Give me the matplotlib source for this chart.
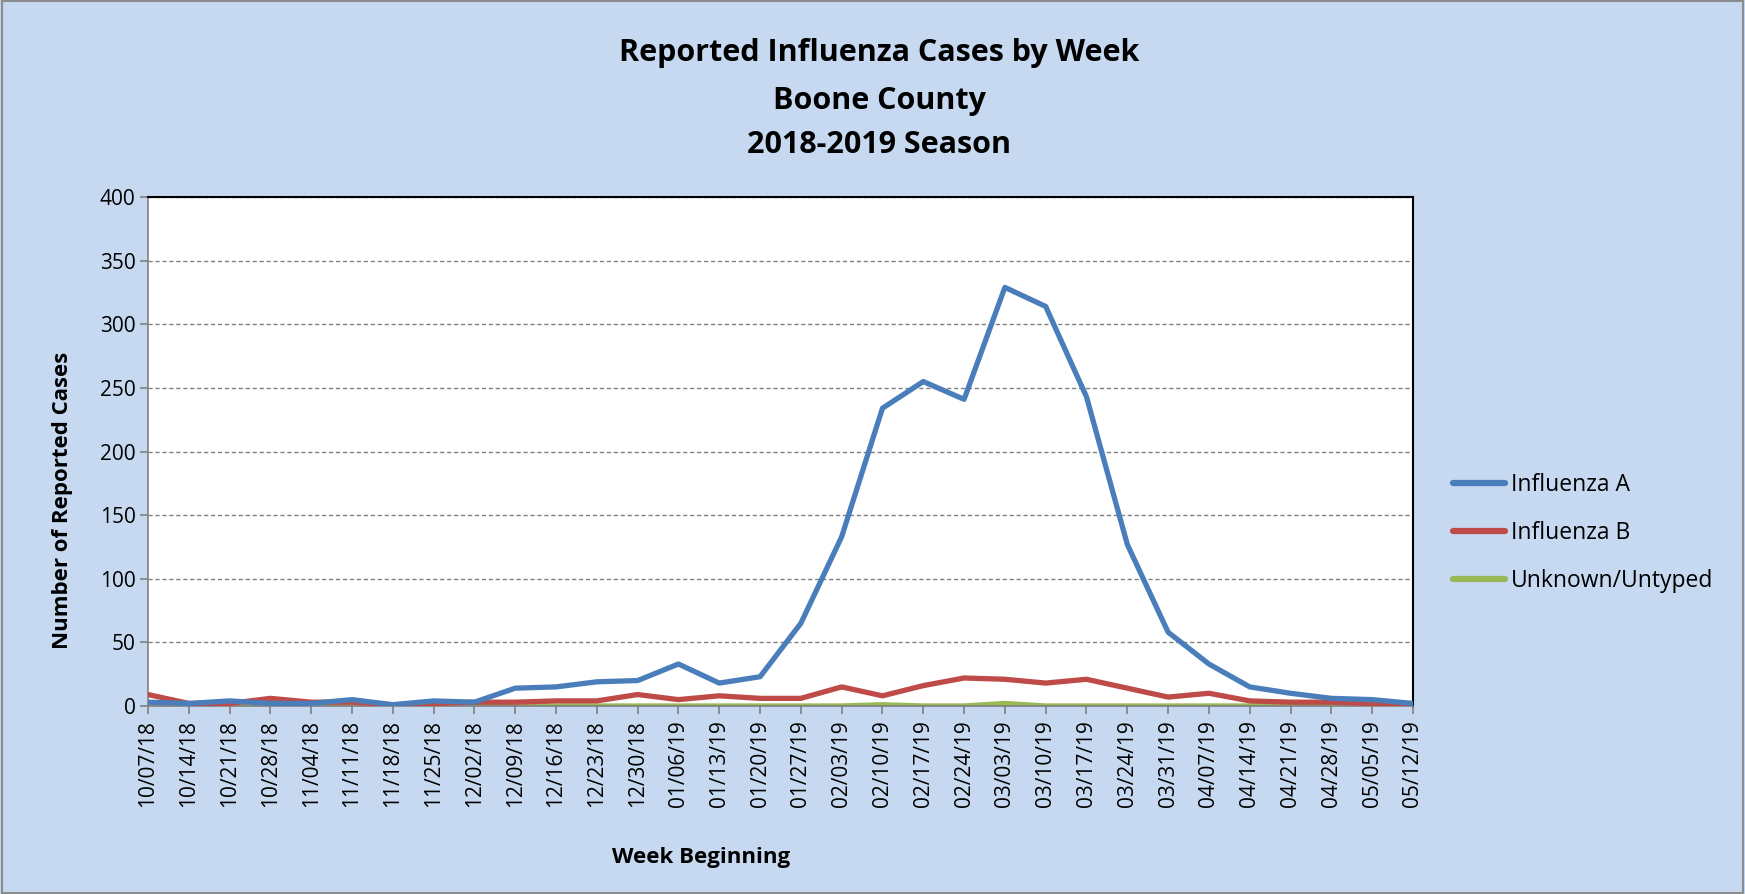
import matplotlib

matplotlib.use("Agg")
import matplotlib.pyplot as plt
from matplotlib.patches import Rectangle


WEEKS = [
    "10/07/18", "10/14/18", "10/21/18", "10/28/18", "11/04/18", "11/11/18",
    "11/18/18", "11/25/18", "12/02/18", "12/09/18", "12/16/18", "12/23/18",
    "12/30/18", "01/06/19", "01/13/19", "01/20/19", "01/27/19", "02/03/19",
    "02/10/19", "02/17/19", "02/24/19", "03/03/19", "03/10/19", "03/17/19",
    "03/24/19", "03/31/19", "04/07/19", "04/14/19", "04/21/19", "04/28/19",
    "05/05/19", "05/12/19",
]

FLU_A = [3, 2, 4, 2, 2, 5, 1, 4, 3, 14, 15, 19, 20, 33, 18, 23, 65, 133,
         234, 255, 241, 329, 314, 243, 127, 58, 33, 15, 10, 6, 5, 2]
FLU_B = [9, 2, 2, 6, 3, 3, 1, 2, 3, 3, 4, 4, 9, 5, 8, 6, 6, 15,
         8, 16, 22, 21, 18, 21, 14, 7, 10, 4, 3, 3, 2, 1]
UNKNOWN = [0, 0, 0, 0, 0, 0, 0, 0, 0, 0, 0, 0, 0, 0, 0, 0, 0, 0,
           1, 0, 0, 2, 0, 0, 0, 0, 0, 0, 1, 0, 0, 0]

Y_TICKS = [0, 50, 100, 150, 200, 250, 300, 350, 400]

BG = "#C6D9F1"
FONT = ["Open Sans", "DejaVu Sans"]

plt.rcParams["font.family"] = FONT

fig = plt.figure(figsize=(17.45, 8.94), dpi=100)
fig.patch.set_facecolor(BG)
fig.patches.append(Rectangle((0.001, 0.001), 0.998, 0.998, transform=fig.transFigure,
                             fill=False, edgecolor="#8c8c8c", linewidth=1.5))

ax = fig.add_axes([0.0848, 0.2103, 0.7249, 0.5693])
ax.set_facecolor("white")

x = list(range(len(WEEKS)))
ax.plot(x, FLU_A, color="#4A7EBB", linewidth=3.8, label="Influenza A", zorder=4)
ax.plot(x, FLU_B, color="#BE4B48", linewidth=3.8, label="Influenza B", zorder=3)
ax.plot(x, UNKNOWN, color="#98B954", linewidth=3.8, label="Unknown/Untyped", zorder=2)

ax.set_xlim(0, len(WEEKS) - 1)
ax.set_ylim(0, 400)
ax.set_yticks(Y_TICKS)
ax.set_yticklabels([str(v) for v in Y_TICKS], fontsize=15)
ax.set_xticks(x)
ax.set_xticklabels(WEEKS, rotation=90, fontsize=15)
ax.tick_params(axis="both", direction="out", length=6, color="#808080", width=1.2)
ax.tick_params(axis="x", pad=4)
ax.tick_params(axis="y", pad=3)
ax.grid(axis="y", color="#808080", linestyle=(0, (3, 2)), linewidth=1.0)
ax.set_axisbelow(True)

for side in ("top", "right"):
    ax.spines[side].set_color("black")
    ax.spines[side].set_linewidth(1.5)
for side in ("left", "bottom"):
    ax.spines[side].set_color("#808080")
    ax.spines[side].set_linewidth(1.2)

fig.text(0.504, 0.941, "Reported Influenza Cases by Week", ha="center", va="center",
         fontsize=22, fontweight="bold")
fig.text(0.504, 0.887, "Boone County", ha="center", va="center",
         fontsize=22, fontweight="bold")
fig.text(0.504, 0.838, "2018-2019 Season", ha="center", va="center",
         fontsize=22, fontweight="bold")

fig.text(0.036, 0.44, "Number of Reported Cases", rotation=90, ha="center", va="center",
         fontsize=16, fontweight="bold")
fig.text(0.402, 0.041, "Week Beginning", ha="center", va="center",
         fontsize=16, fontweight="bold")

leg = ax.legend(loc="center left", bbox_to_anchor=(1.015, 0.34), frameon=False,
                fontsize=16.5, handlelength=2.3, handletextpad=0.25, labelspacing=1.05)
for line in leg.get_lines():
    line.set_linewidth(4.5)
    line.set_solid_capstyle("round")

fig.savefig("out.png", dpi=100, facecolor=BG)
